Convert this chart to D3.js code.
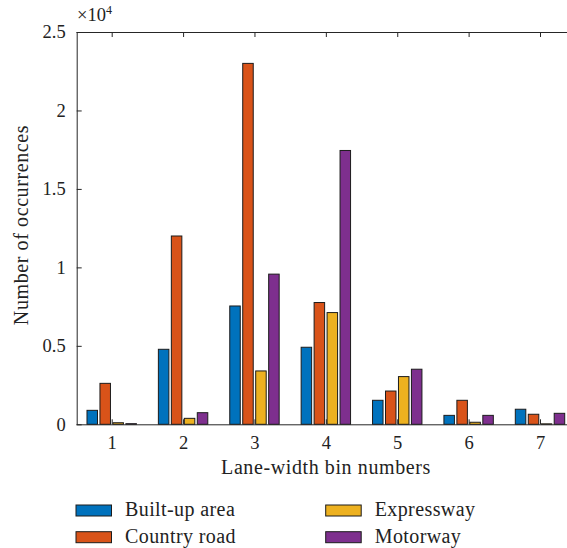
<!DOCTYPE html>
<html>
<head>
<meta charset="utf-8">
<script src="https://cdn.jsdelivr.net/npm/d3@7"></script>
<style>
  body { margin: 0; background: #fff; }
  svg text { font-family: "Liberation Serif", "Times New Roman", serif; fill: #222; }
</style>
</head>
<body>
<svg id="chart" width="567" height="548"></svg>
<script>
// data (counts)
const bins = [1, 2, 3, 4, 5, 6, 7];
const seriesNames = ["Built-up area", "Country road", "Expressway", "Motorway"];
const builtUp     = [890, 4780, 7540, 4910, 1530, 570, 960];
const countryRoad = [2610, 12000, 23000, 7760, 2120, 1530, 640];
const expressway  = [100, 380, 3400, 7120, 3040, 130, 30];
const motorway    = [40, 740, 9570, 17450, 3510, 570, 700];
const yTicks = [0, 5000, 10000, 15000, 20000, 25000];

const colors = ["#0072BD", "#D95319", "#EDB120", "#7E2F8E"];
const allSeries = [builtUp, countryRoad, expressway, motorway];

const margin = {left: 76.7, top: 32, bottom: 424.3};
const svg = d3.select("#chart");

const x = d3.scaleLinear().domain([0.5, 7.5]).range([76, 575.7]);
const inner = d3.scaleBand().domain(seriesNames).range([-26, 26])
  .paddingInner(0.19).paddingOuter(0.1);
const y = d3.scaleLinear().domain([0, 25000]).range([margin.bottom, margin.top]);

// bars
const groups = svg.append("g")
  .selectAll("g")
  .data(allSeries)
  .join("g")
  .attr("fill", (d, i) => colors[i]);

groups.selectAll("rect")
  .data((d, i) => d.map((v, j) => ({v: v, bin: bins[j], name: seriesNames[i]})))
  .join("rect")
  .attr("x", d => x(d.bin) + inner(d.name))
  .attr("width", inner.bandwidth())
  .attr("y", d => y(d.v))
  .attr("height", d => y(0) - y(d.v))
  .attr("stroke", "#1c1c1c")
  .attr("stroke-width", 1);

// axes
const fmt = d => d3.format("~g")(d / 10000);

const yAxis = svg.append("g")
  .attr("transform", `translate(${margin.left},0)`)
  .call(d3.axisLeft(y).tickValues(yTicks).tickFormat(fmt).tickSize(-5).tickSizeOuter(0).tickPadding(11));
yAxis.selectAll("text").style("font-size", "18.5px");

const xAxis = svg.append("g")
  .attr("transform", `translate(0,${margin.bottom})`)
  .call(d3.axisBottom(x).tickValues(bins).tickFormat(d3.format("d")).tickSize(-5).tickSizeOuter(0).tickPadding(12));
xAxis.selectAll("text").style("font-size", "18.5px");

svg.append("g")
  .attr("transform", `translate(0,${margin.top})`)
  .call(d3.axisTop(x).tickValues(bins).tickFormat("").tickSize(-5).tickSizeOuter(0));

svg.selectAll(".domain").attr("stroke", "#262626");
svg.selectAll(".tick line").attr("stroke", "#262626");

// exponent
const expo = svg.append("text").attr("x", 77).attr("y", 21).style("font-size", "18.5px");
expo.append("tspan").text("\u00d710");
expo.append("tspan").attr("dy", -7).style("font-size", "12px").text("4");

// axis labels
svg.append("text")
  .attr("x", 326).attr("y", 474)
  .attr("text-anchor", "middle")
  .style("font-size", "20px")
  .style("letter-spacing", "0.6px")
  .text("Lane-width bin numbers");

svg.append("text")
  .attr("transform", "translate(28,225) rotate(-90)")
  .attr("text-anchor", "middle")
  .style("font-size", "20px")
  .style("letter-spacing", "0.6px")
  .text("Number of occurrences");

// legend
const legendPos = [[76, 505], [76, 531.7], [325.7, 505], [325.7, 531.7]];
const legend = svg.append("g")
  .selectAll("g")
  .data(seriesNames)
  .join("g")
  .attr("transform", (d, i) => `translate(${legendPos[i][0]},${legendPos[i][1]})`);
legend.append("rect")
  .attr("width", 35.5).attr("height", 11)
  .attr("fill", (d, i) => colors[i])
  .attr("stroke", "#1c1c1c");
legend.append("text")
  .attr("x", 49).attr("y", 11)
  .style("font-size", "20px")
  .style("letter-spacing", "0.4px")
  .text(d => d);
</script>
</body>
</html>
